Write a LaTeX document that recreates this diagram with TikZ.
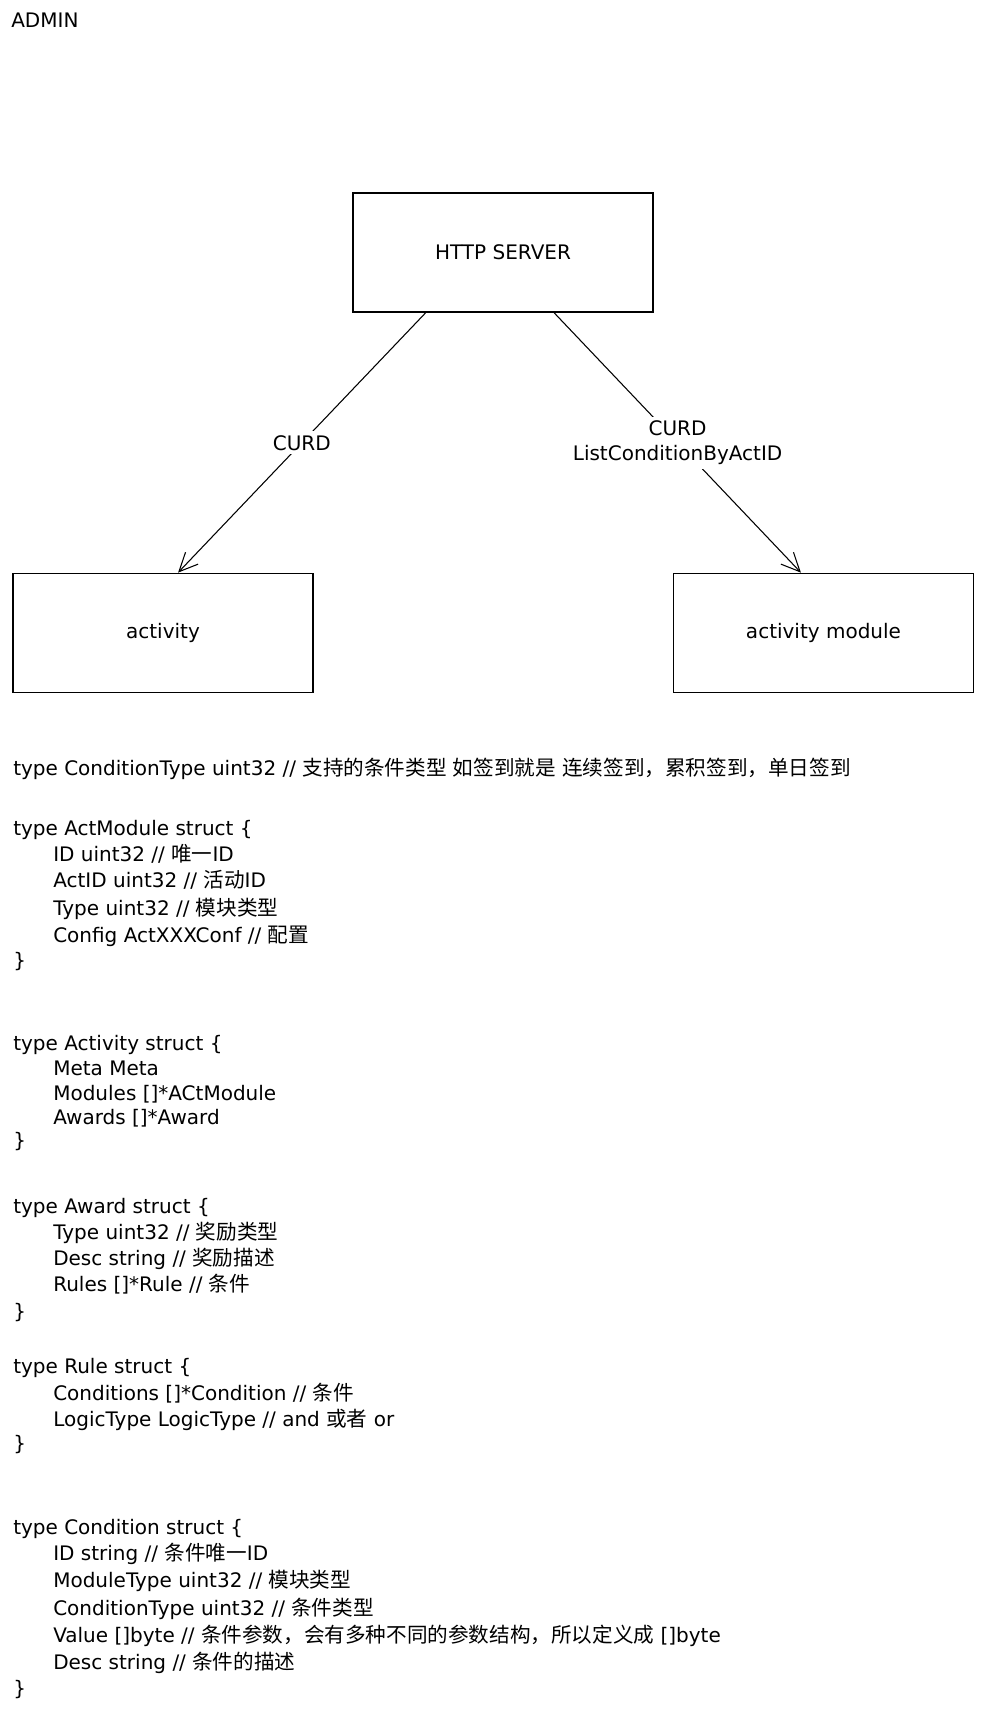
\documentclass[tikz,border=0pt]{standalone}
\usepackage{fontspec}
\setmainfont{DejaVu Sans}
\newfontfamily\cjk[Scale=1.03]{Noto Sans CJK SC}
\newcommand\zh[1]{{\cjk #1}}
\usetikzlibrary{arrows.meta,calc}

\begin{document}
\begin{tikzpicture}[x=0.75pt,y=-0.75pt,
  every node/.style={font=\fontsize{15}{18.75}\selectfont},
  box/.style={draw, line width=1.1pt, minimum width=225pt, minimum height=89.5pt, inner sep=0pt},
  code/.style={anchor=base west, inner sep=0pt},
  lbl/.style={fill=white, inner sep=3pt, align=center},
  arr/.style={-{Straight Barb[length=14pt,width=13pt]}, line width=0.8pt}]

\useasboundingbox (0,0) rectangle (983,1713);

% title
\node[code] (admin) at (11,27) {ADMIN};

% components
\node[box] (http) at (503,252.5) {HTTP SERVER};
\node[box] (act)  at (163,633) {activity};
\node[box] (mod)  at (823.5,633) {activity module};

% calls
\draw[arr] ($(http.south west)!0.243!(http.south east)$) -- node[lbl] (l1) {CURD}
  ($(act.north west)!0.55!(act.north east)$);
\draw[arr] ($(http.south west)!0.67!(http.south east)$) -- node[lbl] (l2) {CURD\\ListConditionByActID}
  ($(mod.north west)!0.425!(mod.north east)$);

% type definitions
\node[code] (ct) at (13,775) {type ConditionType uint32 // \zh{支持的条件类型} \zh{如签到就是} \zh{连续签到，累积签到，单日签到}};

\node[code] (am0) at (13,835) {type ActModule struct \{};
\node[code] (am1) at (53,861) {ID uint32 // \zh{唯一}ID};
\node[code] (am2) at (53,887) {ActID uint32 // \zh{活动}ID};
\node[code] (am3) at (53,915) {Type uint32 // \zh{模块类型}};
\node[code] (am4) at (53,942) {Config ActXXXConf // \zh{配置}};
\node[code] (am5) at (13,967) {\}};

\node[code] (av0) at (13,1050) {type Activity struct \{};
\node[code] (av1) at (53,1075) {Meta Meta};
\node[code] (av2) at (53,1100) {Modules []*ACtModule};
\node[code] (av3) at (53,1124) {Awards []*Award};
\node[code] (av4) at (13,1147) {\}};

\node[code] (aw0) at (13,1213) {type Award struct \{};
\node[code] (aw1) at (53,1239) {Type uint32 // \zh{奖励类型}};
\node[code] (aw2) at (53,1265) {Desc string // \zh{奖励描述}};
\node[code] (aw3) at (53,1291) {Rules []*Rule // \zh{条件}};
\node[code] (aw4) at (13,1318) {\}};

\node[code] (ru0) at (13,1373) {type Rule struct \{};
\node[code] (ru1) at (53,1400) {Conditions []*Condition // \zh{条件}};
\node[code] (ru2) at (53,1426) {LogicType LogicType // and \zh{或者} or};
\node[code] (ru3) at (13,1450) {\}};

\node[code] (cd0) at (13,1534) {type Condition struct \{};
\node[code] (cd1) at (53,1560) {ID string // \zh{条件唯一}ID};
\node[code] (cd2) at (53,1587) {ModuleType uint32 // \zh{模块类型}};
\node[code] (cd3) at (53,1615) {ConditionType uint32 // \zh{条件类型}};
\node[code] (cd4) at (53,1642) {Value []byte // \zh{条件参数，会有多种不同的参数结构，所以定义成} []byte};
\node[code] (cd5) at (53,1669) {Desc string // \zh{条件的描述}};
\node[code] (cd6) at (13,1695) {\}};

\end{tikzpicture}
\end{document}
